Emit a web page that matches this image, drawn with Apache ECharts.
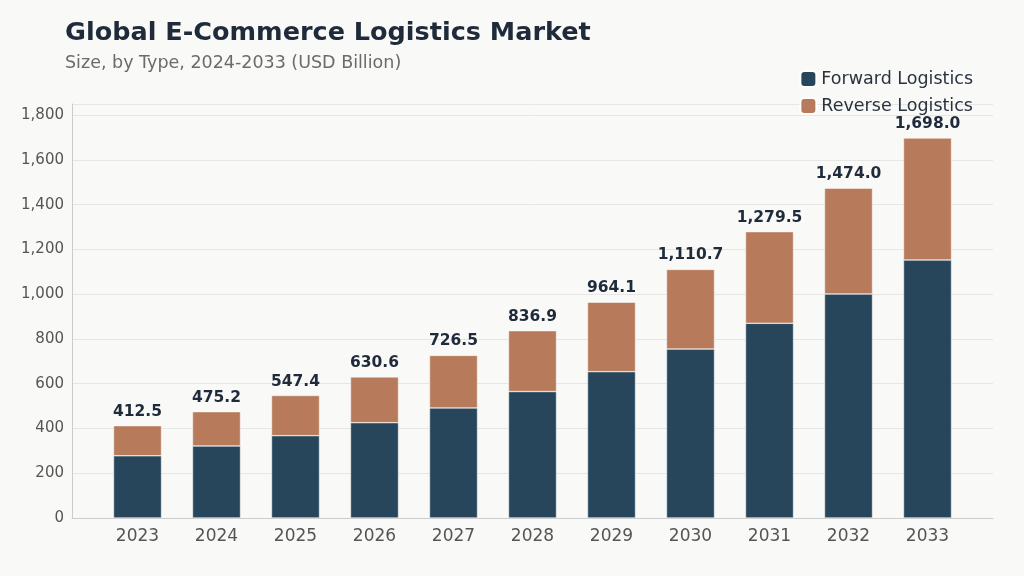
<!DOCTYPE html>
<html><head><meta charset="utf-8">
<script src="https://cdn.jsdelivr.net/npm/echarts@6/dist/echarts.min.js"></script>
<style>body{margin:0;background:#f9f9f7}#c{width:1024px;height:576px}</style></head>
<body><div id="c"></div>
<script>
const years=['2023','2024','2025','2026','2027','2028','2029','2030','2031','2032','2033'];
const totals=[412.5,475.2,547.4,630.6,726.5,836.9,964.1,1110.7,1279.5,1474.0,1698.0];
const forward=[278,322,368,426,492,565,654,755,870,1001,1153];
const reverse=totals.map((t,i)=>+(t-forward[i]).toFixed(1));
const ff='DejaVu Sans';
const chart=echarts.init(document.getElementById('c'));
chart.setOption({
backgroundColor:'#f9f9f7',
textStyle:{fontFamily:ff},
title:{text:'Global E-Commerce Logistics Market',subtext:'Size, by Type, 2024-2033 (USD Billion)',left:60,top:15,
 textStyle:{fontSize:25.5,fontWeight:'bold',color:'#1f2a3a',fontFamily:ff},
 subtextStyle:{fontSize:17.5,color:'#6b6b6b',fontFamily:ff},itemGap:8},
legend:{orient:'vertical',right:46,top:65,itemWidth:16,itemHeight:16,itemGap:9,
 textStyle:{fontSize:17.5,color:'#2a3240',fontFamily:ff},data:['Forward Logistics','Reverse Logistics']},
grid:[{left:72,right:31,top:104,bottom:58},{left:98,right:57,top:104,bottom:58}],
xAxis:[
 {type:'category',gridIndex:0,data:[''],axisLine:{lineStyle:{color:'#cccccc'}},axisTick:{show:false},axisLabel:{show:false}},
 {type:'category',gridIndex:1,data:years,axisLine:{show:false},axisTick:{show:false},
 axisLabel:{fontSize:17,color:'#555',margin:10}}],
yAxis:[
 {type:'value',gridIndex:0,min:0,max:1850,interval:200,
 axisLine:{show:true,lineStyle:{color:'#cccccc'}},
 axisLabel:{fontSize:15,color:'#555',showMaxLabel:false,formatter:v=>v.toLocaleString('en-US')},
 splitLine:{lineStyle:{color:'#e6e6e6'}}},
 {type:'value',gridIndex:1,min:0,max:1850,interval:200,axisLine:{show:false},axisLabel:{show:false},splitLine:{show:false}}],
series:[
{name:'Forward Logistics',type:'bar',stack:'a',xAxisIndex:1,yAxisIndex:1,data:forward,barWidth:48,itemStyle:{color:'#27465c',borderColor:'#fff',borderWidth:0.5}},
{name:'Reverse Logistics',type:'bar',stack:'a',xAxisIndex:1,yAxisIndex:1,data:reverse,barWidth:48,itemStyle:{color:'#b77a5a',borderColor:'#fff',borderWidth:0.5},
 label:{show:true,position:'top',distance:6,fontSize:15.5,fontWeight:'bold',color:'#1f2a3a',
 formatter:p=>totals[p.dataIndex].toLocaleString('en-US',{minimumFractionDigits:1,maximumFractionDigits:1})}}
]});
</script></body></html>
